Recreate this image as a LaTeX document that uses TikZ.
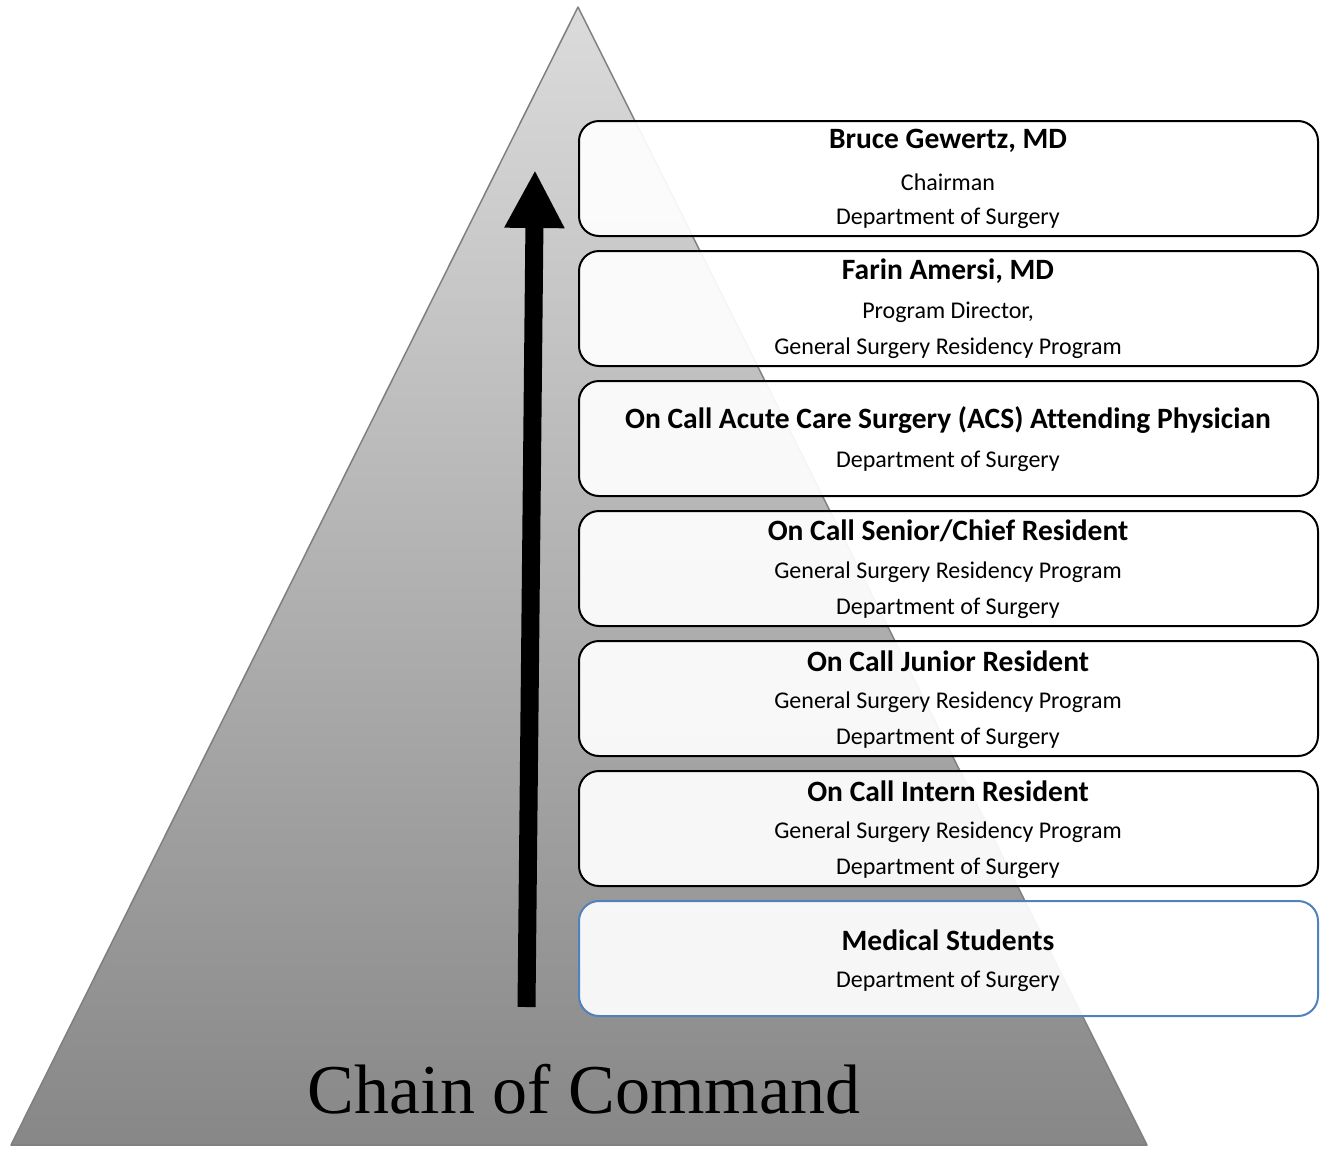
\documentclass[tikz,border=0pt]{standalone}
\usepackage{fontspec}
\setmainfont{Carlito}[RawFeature={-liga;-clig;-calt;-dlig}]
\newfontfamily\timesf{Liberation Serif}
\usetikzlibrary{arrows.meta}
\definecolor{boxblue}{HTML}{4F81BD}
\definecolor{edgegray}{HTML}{7F7F7F}
\tikzset{
  tbox/.style={draw=black, line width=2, rounded corners=20, fill=white, fill opacity=0.92},
  ttl/.style={font=\fontsize{29.5}{34}\selectfont\bfseries, anchor=center, inner sep=0},
  sub/.style={font=\fontsize{24}{28}\selectfont, anchor=center, inner sep=0}
}
\begin{document}
\begin{tikzpicture}[x=1pt,y=-1pt]
\useasboundingbox (0,0) rectangle (1326,1149);
% pyramid
\coordinate (apex) at (578,7);
\coordinate (bl) at (11,1145);
\coordinate (br) at (1147,1145);
\shade[top color=black!14, bottom color=black!47] (apex) -- (bl) -- (br) -- cycle;
\draw[edgegray, line width=1.5, line join=round] (apex) -- (bl) -- (br) -- cycle;
% arrow
\coordinate (abase) at (526.5,1007);
\coordinate (atip) at (535,170);
\draw[line width=18, -{Triangle[width=56pt,length=58pt]}] (abase) -- (atip);
% boxes
\foreach \n/\y in {1/121,2/251,3/381,4/511,5/641,6/771} {
  \path[tbox] (579,\y) rectangle (1318,\y+115);
}
\path[tbox, draw=boxblue] (579,901) rectangle (1318,1016);
% texts
\node[ttl] (t1) at (948,141) {Bruce Gewertz, MD};
\node[sub] (t1a) at (948,182) {Chairman};
\node[sub] (t1b) at (948,218) {Department of Surgery};
\node[ttl] (t2) at (948,271) {Farin Amersi, MD};
\node[sub] (t2a) at (948,312) {Program Director,};
\node[sub] (t2b) at (948,348) {General Surgery Residency Program};
\node[ttl] (t3) at (948,420) {On Call Acute Care Surgery (ACS) Attending Physician};
\node[sub] (t3a) at (948,461) {Department of Surgery};
\node[ttl] (t4) at (948,531) {On Call Senior/Chief Resident};
\node[sub] (t4a) at (948,572) {General Surgery Residency Program};
\node[sub] (t4b) at (948,608) {Department of Surgery};
\node[ttl] (t5) at (948,661) {On Call Junior Resident};
\node[sub] (t5a) at (948,702) {General Surgery Residency Program};
\node[sub] (t5b) at (948,738) {Department of Surgery};
\node[ttl] (t6) at (948,791) {On Call Intern Resident};
\node[sub] (t6a) at (948,832) {General Surgery Residency Program};
\node[sub] (t6b) at (948,868) {Department of Surgery};
\node[ttl] (t7) at (948,940) {Medical Students};
\node[sub] (t7a) at (948,981) {Department of Surgery};
% title
\node[font=\timesf\fontsize{70}{80}\selectfont, anchor=base, inner sep=0] (cc) at (584,1113) {Chain of Command};
\end{tikzpicture}
\end{document}
